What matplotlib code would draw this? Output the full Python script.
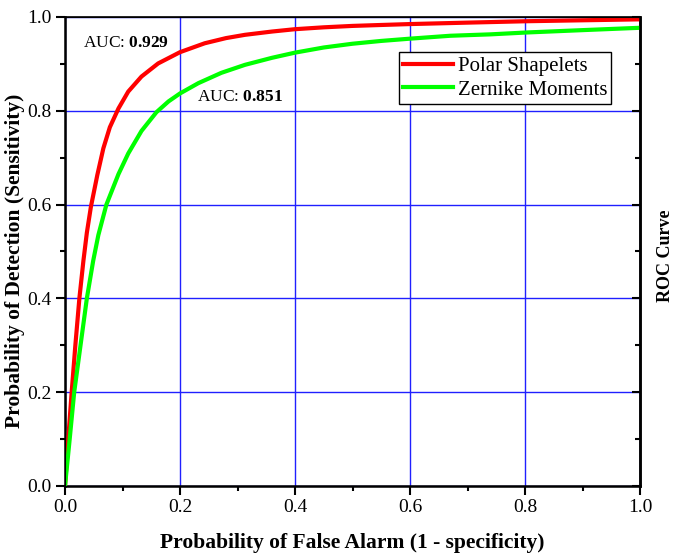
import matplotlib
matplotlib.use('Agg')
import matplotlib.pyplot as plt
from matplotlib.ticker import MultipleLocator

plt.rcParams['font.family'] = 'Liberation Serif'
plt.rcParams['mathtext.fontset'] = 'custom'
plt.rcParams['mathtext.rm'] = 'Liberation Serif'
plt.rcParams['mathtext.bf'] = 'Liberation Serif:bold'

# ROC points
polar_fpr = [0.0, 0.0055, 0.0116, 0.018, 0.025, 0.032, 0.038, 0.045, 0.0562, 0.0667, 0.078,
             0.093, 0.110, 0.133, 0.162, 0.2, 0.243, 0.28, 0.313, 0.36, 0.4, 0.45, 0.5,
             0.55, 0.602, 0.7, 0.803, 0.9, 1.0]
polar_tpr = [0.0, 0.098, 0.2, 0.3, 0.4, 0.48, 0.54, 0.595, 0.663, 0.72, 0.765,
             0.805, 0.841, 0.873, 0.901, 0.925, 0.944, 0.955, 0.962, 0.969, 0.974, 0.978, 0.981,
             0.983, 0.985, 0.988, 0.991, 0.993, 0.995]

zernike_fpr = [0.0, 0.008, 0.016, 0.027, 0.038, 0.049, 0.058, 0.072, 0.093, 0.110, 0.133,
               0.159, 0.180, 0.2, 0.232, 0.272, 0.313, 0.36, 0.4, 0.45, 0.5, 0.55,
               0.602, 0.67, 0.74, 0.803, 0.9, 1.0]
zernike_tpr = [0.0, 0.098, 0.2, 0.3, 0.4, 0.48, 0.535, 0.6, 0.665, 0.709, 0.757,
               0.797, 0.820, 0.837, 0.859, 0.881, 0.898, 0.913, 0.924, 0.935, 0.943, 0.949,
               0.954, 0.960, 0.963, 0.967, 0.972, 0.977]

auc_polar = 0.929
auc_zernike = 0.851

fig = plt.figure(figsize=(6.74, 5.55), dpi=100)
fig.subplots_adjust(left=65/674, right=640/674, bottom=1-486/555, top=1-17/555)
ax = fig.add_subplot(111)

ax.plot(polar_fpr, polar_tpr, color='#ff0000', lw=3, label='Polar Shapelets', zorder=3)
ax.plot(zernike_fpr, zernike_tpr, color='#00ff00', lw=3, label='Zernike Moments', zorder=3)

ax.set_xlim(0, 1)
ax.set_ylim(0, 1)
ax.xaxis.set_major_locator(MultipleLocator(0.2))
ax.xaxis.set_minor_locator(MultipleLocator(0.1))
ax.yaxis.set_major_locator(MultipleLocator(0.2))
ax.yaxis.set_minor_locator(MultipleLocator(0.1))
ax.xaxis.set_major_formatter(plt.FormatStrFormatter('%.1f'))
ax.yaxis.set_major_formatter(plt.FormatStrFormatter('%.1f'))
ax.grid(True, which='major', color='#2020ff', lw=1, zorder=1)
ax.set_axisbelow(True)

ax.tick_params(which='major', direction='out', length=6.5, width=1.5, labelsize=14, pad=3,
               top=False, right=False)
ax.tick_params(which='minor', direction='out', length=3.6, width=1.5, top=False, right=False)
for side in ['left', 'bottom', 'right']:
    ax.spines[side].set_linewidth(1.8)
ax.spines['top'].set_linewidth(1.2)

ax.set_xlabel('Probability of False Alarm (1 - specificity)', fontsize=15.5, fontweight='bold', labelpad=12)
ax.set_ylabel('Probability of Detection (Sensitivity)', fontsize=15.5, fontweight='bold')
ax.yaxis.set_label_coords(-0.07, 0.48)

# right axis: inward ticks only
ax2 = ax.twinx()
ax2.set_ylim(0, 1)
ax2.yaxis.set_major_locator(MultipleLocator(0.2))
ax2.yaxis.set_minor_locator(MultipleLocator(0.1))
ax2.tick_params(which='major', direction='in', length=6, width=1.5, labelright=False)
ax2.tick_params(which='minor', direction='in', length=3.6, width=1.5)
ax2.spines['right'].set_linewidth(1.8)
fig.text(666/674, 1-256/555, 'ROC Curve', rotation=90, fontsize=13, fontweight='bold',
         ha='center', va='center')

ax.text(0.031, 0.945, 'AUC: $\\mathbf{%.3f}$' % auc_polar, fontsize=12.5, va='center', ha='left')
ax.text(0.23, 0.829, 'AUC: $\\mathbf{%.3f}$' % auc_zernike, fontsize=12.5, va='center', ha='left')

leg = ax.legend(loc='upper right', bbox_to_anchor=(0.950, 0.925), borderaxespad=0,
                fancybox=False, edgecolor='black', framealpha=1, fontsize=15,
                handlelength=2.4, handletextpad=0.2, labelspacing=0.2, borderpad=0.2)
leg.get_frame().set_linewidth(1.0)
leg.set_zorder(5)

fig.savefig('out.png', dpi=100)
